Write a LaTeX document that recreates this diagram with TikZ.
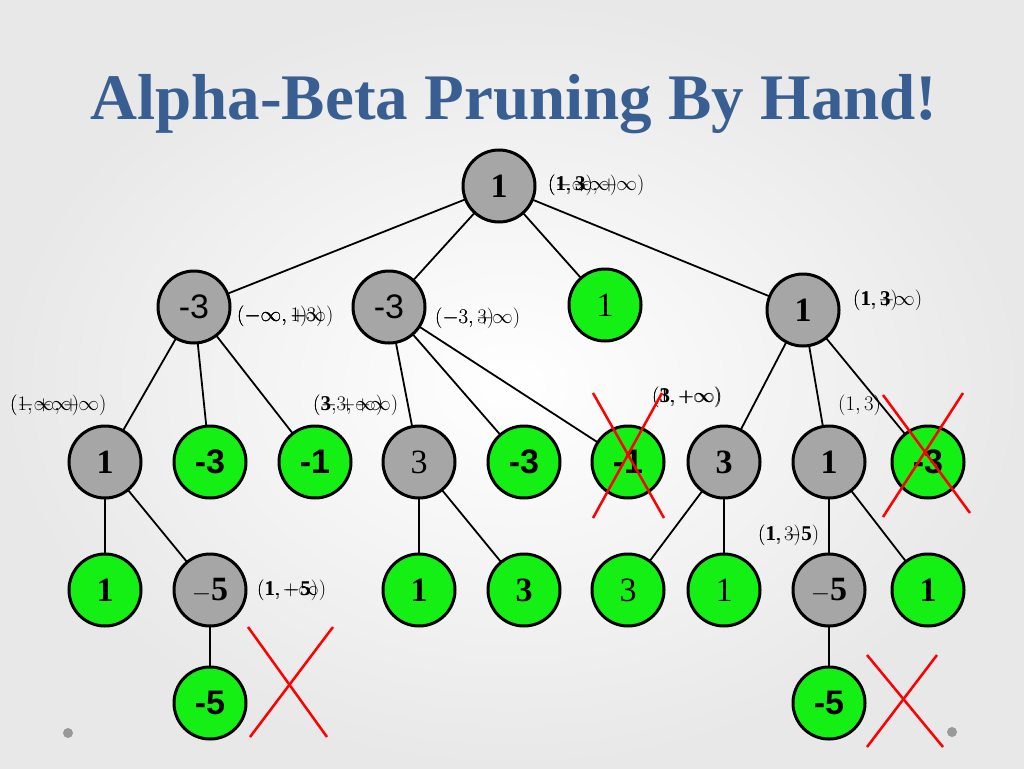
\documentclass[tikz,border=0pt]{standalone}
\usepackage{fontspec}
\setmainfont{Liberation Serif}
\newfontfamily\numsans{Liberation Sans}
\usepackage{tikz}
\usepackage{tkz-graph}
\usetikzlibrary{arrows,%
                shapes,positioning}
\definecolor{titleblue}{RGB}{56,94,146}
\definecolor{nodegray}{RGB}{166,166,166}
\definecolor{leafgreen}{RGB}{20,240,20}

\begin{document}
\begin{tikzpicture}[x=1pt,y=-1pt]
\useasboundingbox (0,0) rectangle (1024,768);
\shade[inner color=white,outer color=black!9] (0,0) rectangle (1024,768);
\tikzset{VertexStyle/.style={draw, circle, line width=3pt, minimum size=72pt,
           inner sep=0pt, fill=nodegray, font=\fontsize{34}{34}\selectfont\bfseries},
         EdgeStyle/.style={line width=1.8pt},
         window/.style={anchor=west, inner sep=0pt, font=\fontsize{21}{21}\selectfont},
         prune/.style={draw=red, line width=2.5pt}}
\node[text=titleblue, font=\fontsize{65}{65}\selectfont\bfseries] (title) at (514,104) {Alpha-Beta Pruning By Hand!};
% inner nodes
\Vertex[x=499,y=186,L={1}]{root}
\Vertex[x=194,y=307,L={\numsans\mdseries -3}]{ma}
\Vertex[x=389,y=307,L={\numsans\mdseries -3}]{mb}
\Vertex[x=803,y=310,L={1}]{md}
\Vertex[x=105,y=462,L={1}]{xa}
\Vertex[x=419,y=462,L={\mdseries 3}]{xb}
\Vertex[x=724,y=462,L={3}]{xc}
\Vertex[x=829,y=462,L={1}]{xd}
\Vertex[x=210,y=590,L={$\mathbf{-5}$}]{na}
\Vertex[x=829,y=590,L={$\mathbf{-5}$}]{nb}
% leaves
\begin{scope}[VertexStyle/.append style={fill=leafgreen}]
\Vertex[x=605,y=305,L={\mdseries 1}]{mc}
\Vertex[x=210,y=462,L={\numsans -3}]{ta}
\Vertex[x=315,y=462,L={\numsans -1}]{tb}
\Vertex[x=524,y=462,L={\numsans -3}]{tc}
\Vertex[x=628,y=462,L={\numsans -1}]{td}
\Vertex[x=928,y=462,L={\numsans -3}]{te}
\Vertex[x=105,y=590,L={1}]{la}
\Vertex[x=419,y=590,L={1}]{lb}
\Vertex[x=524,y=590,L={3}]{lc}
\Vertex[x=628,y=590,L={\mdseries 3}]{ld}
\Vertex[x=724,y=590,L={\mdseries 1}]{le}
\Vertex[x=928,y=590,L={1}]{lf}
\Vertex[x=210,y=703,L={\numsans -5}]{ea}
\Vertex[x=829,y=703,L={\numsans -5}]{eb}
\end{scope}
\Edge(root)(ma)
\Edge(root)(mb)
\Edge(root)(mc)
\Edge(root)(md)
\Edge(ma)(xa)
\Edge(ma)(ta)
\Edge(ma)(tb)
\Edge(mb)(xb)
\Edge(mb)(tc)
\Edge(mb)(td)
\Edge(md)(xc)
\Edge(md)(xd)
\Edge(md)(te)
\Edge(xa)(la)
\Edge(xa)(na)
\Edge(xb)(lb)
\Edge(xb)(lc)
\Edge(xc)(ld)
\Edge(xc)(le)
\Edge(xd)(nb)
\Edge(xd)(lf)
\Edge(na)(ea)
\Edge(nb)(eb)
% windows
\node[window] (wroota) at (548,185) {$(-\infty,+\infty)$};
\node[window] (wrootb) at (548,185) {$(1,+\infty)$};
\node[window] (wrootc) at (548,185) {$\mathbf{(1,3)}$};
\node[window] (wmaa) at (237,316) {$(-\infty,+\infty)$};
\node[window] (wmab) at (237,316) {$(-\infty,1)$};
\node[window] (wmac) at (237,316) {$(-\infty,-3)$};
\node[window] (wmba) at (435,318) {$(-3,+\infty)$};
\node[window] (wmbb) at (435,318) {$(-3,3)$};
\node[window] (wmda) at (853,300) {$(1,+\infty)$};
\node[window] (wmdb) at (853,300) {$\mathbf{(1,3)}$};
\node[window] (wxaa) at (10,405) {$(-\infty,+\infty)$};
\node[window] (wxab) at (10,405) {$(1,+\infty)$};
\node[window] (wxba) at (313,405) {$(-3,+\infty)$};
\node[window] (wxbb) at (313,405) {$\mathbf{(3,+\infty)}$};
\node[window] (wxca) at (652,397) {$(1,+\infty)$};
\node[window] (wxcb) at (652,397) {$\mathbf{(3,+\infty)}$};
\node[window] (wxd) at (838,405) {$(1,3)$};
\node[window] (wnba) at (758,535) {$(1,3)$};
\node[window] (wnbb) at (758,535) {$\mathbf{(1,-5)}$};
\node[window] (wnaa) at (257,590) {$(1,+\infty)$};
\node[window] (wnab) at (257,590) {$\mathbf{(1,-5)}$};
% pruned
\draw[prune] (593,393) -- (664,518);
\draw[prune] (662,393) -- (593,518);
\draw[prune] (883,395) -- (970,513);
\draw[prune] (963,393) -- (883,517);
\draw[prune] (248,627) -- (327,737);
\draw[prune] (333,627) -- (250,737);
\draw[prune] (867,655) -- (943,747);
\draw[prune] (937,655) -- (867,747);
\fill[black!40] (68,733) circle (5);
\fill[black!40] (952,732) circle (5);
\end{tikzpicture}
\end{document}
